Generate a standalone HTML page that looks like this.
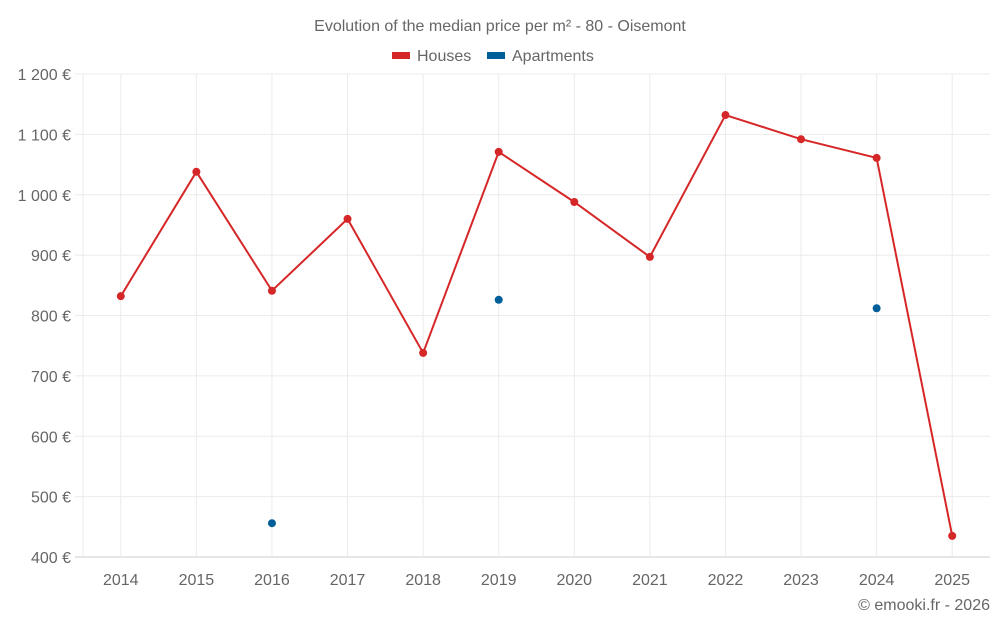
<!DOCTYPE html>
<html><head><meta charset="utf-8"><style>
body{margin:0;background:#fff;font-family:"Liberation Sans",sans-serif;}
svg text{font-family:"Liberation Sans",sans-serif;fill:#666;}
</style></head><body>
<svg id="c" width="1000" height="625">
<text x="500" y="31" text-anchor="middle" font-size="16">Evolution of the median price per m² - 80 - Oisemont</text>
<g>
<g><rect x="392" y="52" width="18" height="7" fill="#d62728"/><text x="417" y="61" font-size="16">Houses</text></g>
<g><rect x="487" y="52" width="18" height="7" fill="#005f99"/><text x="512" y="61" font-size="16">Apartments</text></g>
</g>
<g id="grid"></g><g id="axes"></g><g id="marks"></g>
<text x="990" y="610" text-anchor="end" font-size="16">© emooki.fr - 2026</text>
</svg>
<script>
const years=[2014,2015,2016,2017,2018,2019,2020,2021,2022,2023,2024,2025];
const houses=[832,1038,841,960,738,1071,988,897,1132,1092,1061,435];
const apartments=[null,null,456,null,null,826,null,null,null,null,812,null];
const yTicks=[400,500,600,700,800,900,1000,1100,1200];
const NS="http://www.w3.org/2000/svg";
const L=83,R=990,T=74,B=557;
const step=(R-L)/years.length;
const x=i=>L+step*(i+0.5);
const y=v=>B-(v-400)/800*(B-T);
function mk(tag,a,p){const e=document.createElementNS(NS,tag);for(const k in a)e.setAttribute(k,a[k]);p.appendChild(e);return e;}
const g=document.getElementById('grid'),ax=document.getElementById('axes'),m=document.getElementById('marks');
yTicks.forEach(v=>{
const l=mk('line',{x1:L-8,x2:R,y1:y(v),y2:y(v),stroke:v===400?'#ccc':'#ebebeb'},g);


const t=mk('text',{x:L-12,y:y(v)+6,'text-anchor':'end','font-size':16},ax);
t.textContent=v.toLocaleString('fr-FR').replace(/\u202f|\u00a0/g,' ')+' €';


});
const edge=mk('line',{x1:L,x2:L,y1:T,y2:B,stroke:'#ebebeb'},g);


years.forEach((yr,i)=>{
const l=mk('line',{x1:x(i),x2:x(i),y1:T,y2:B,stroke:'#ebebeb'},g);


const t=mk('text',{x:x(i),y:585,'text-anchor':'middle','font-size':16},ax);
t.textContent=yr;


});
const pl=mk('polyline',{points:houses.map((v,i)=>x(i)+','+y(v)).join(' '),fill:'none',stroke:'#d62728','stroke-width':2},m);


houses.forEach((v,i)=>{
const c=mk('circle',{cx:x(i),cy:y(v),r:4,fill:'#d62728'},m);


});
apartments.forEach((v,i)=>{if(v==null)return;
const c=mk('circle',{cx:x(i),cy:y(v),r:4,fill:'#005f99'},m);


});
</script>
</body></html>
